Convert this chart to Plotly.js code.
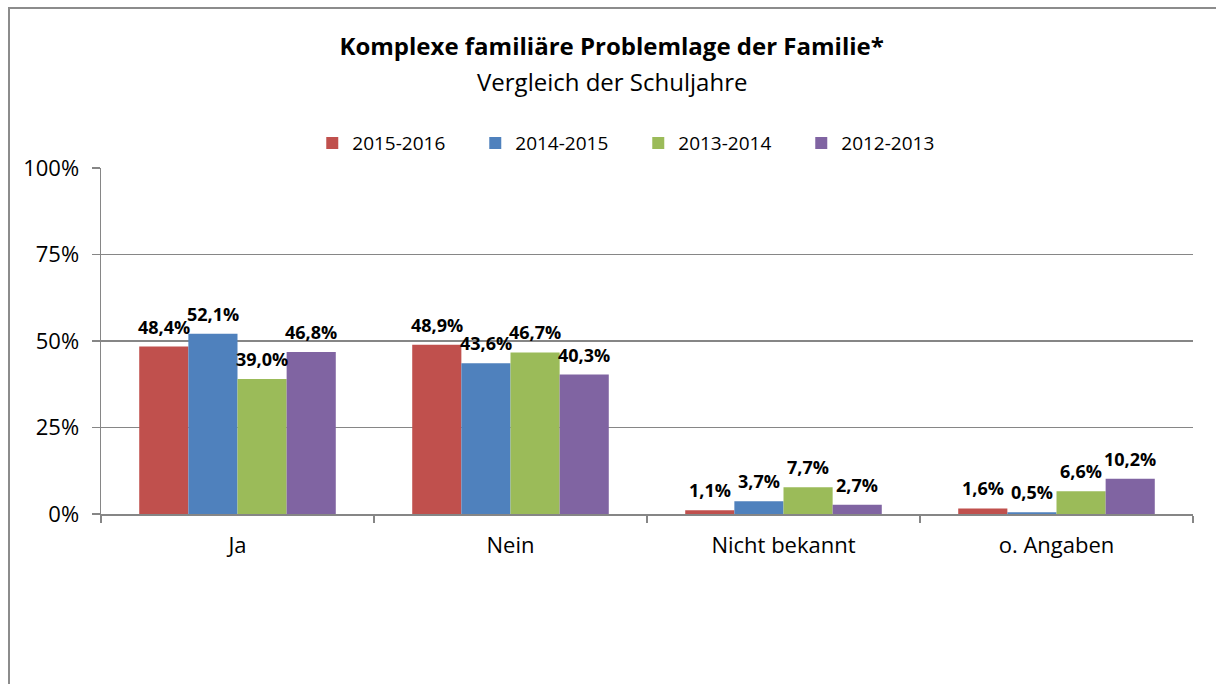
<!DOCTYPE html>
<html>
<head>
<meta charset="utf-8">
<script src="https://cdn.plot.ly/plotly-3.0.1.min.js"></script>
<style>
  html, body { margin: 0; padding: 0; background: #fff; overflow: hidden; }
  #wrap { position: relative; width: 1216px; height: 684px; }
  #chart { position: absolute; left: 0; top: 0; width: 1216px; height: 684px; }
  #frame { position: absolute; left: 8px; top: 7px; width: 1400px; height: 900px;
           border: 2px solid #8c8c8c; pointer-events: none; }
</style>
</head>
<body>
<div id="wrap">
  <div id="chart"></div>
  <div id="frame"></div>
</div>
<script>
const categories = ["Ja", "Nein", "Nicht bekannt", "o. Angaben"];
const seriesNames = ["2015-2016", "2014-2015", "2013-2014", "2012-2013"];
const s2015 = [0.484, 0.489, 0.011, 0.016];
const s2014 = [0.521, 0.436, 0.037, 0.005];
const s2013 = [0.390, 0.467, 0.077, 0.066];
const s2012 = [0.468, 0.403, 0.027, 0.102];
const colors = ["#C0504D", "#4F81BD", "#9BBB59", "#8064A2"];

const FONT = "'Open Sans', 'Noto Sans', sans-serif";
const values = [s2015, s2014, s2013, s2012];

const W = 1216, H = 684;
const margin = { l: 101, r: 23, t: 168, b: 170 };
const bargap = 0.28;
const plotW = W - margin.l - margin.r;
const plotH = H - margin.t - margin.b;
const catW = plotW / categories.length;
const barW = catW * (1 - bargap) / values.length;

const traces = values.map((v, i) => ({
  type: "bar",
  name: seriesNames[i],
  x: categories,
  y: v,
  marker: { color: colors[i], line: { width: 0 } },
  hoverinfo: "skip"
}));

const fmt = v => (v * 100).toFixed(1).replace(".", ",") + "%";
const annotations = [];
values.forEach((v, i) => {
  v.forEach((val, j) => {
    annotations.push({
      xref: "x", yref: "y",
      x: categories[j], y: val,
      xshift: (i - (values.length - 1) / 2) * barW,
      yshift: 20,
      yanchor: "middle", xanchor: "center",
      text: "<b>" + fmt(val) + "</b>",
      showarrow: false,
      font: { family: FONT, size: 18, color: "#000" }
    });
  });
});
// subtitle, centred under the title
annotations.push({
  xref: "paper", yref: "paper",
  x: (W * 0.503 - margin.l) / plotW,
  y: 1 + (margin.t - 82) / plotH,
  xanchor: "center", yanchor: "middle",
  text: "Vergleich der Schuljahre",
  showarrow: false,
  font: { family: FONT, size: 24, color: "#000" }
});

const layout = {
  width: W, height: H,
  margin: margin,
  paper_bgcolor: "#fff", plot_bgcolor: "#fff",
  separators: ",.",
  font: { family: FONT, color: "#000" },
  title: {
    text: "<b>Komplexe familiäre Problemlage der Familie*</b>",
    font: { family: FONT, size: 24, color: "#000" },
    x: 0.503, xanchor: "center", xref: "container",
    y: 1 - 47 / H, yanchor: "middle", yref: "container"
  },
  annotations: annotations,
  barmode: "group",
  bargap: bargap,
  bargroupgap: 0,
  showlegend: true,
  legend: {
    orientation: "h",
    x: 0.492, xanchor: "center",
    y: 1.072, yanchor: "middle",
    font: { family: FONT, size: 19, color: "#000" },
    entrywidth: 118, entrywidthmode: "pixels",
    itemwidth: 30,
    traceorder: "normal"
  },
  xaxis: {
    type: "category",
    showline: true, linecolor: "#868686", linewidth: 1.5,
    ticks: "outside", tickson: "boundaries", ticklen: 7, tickcolor: "#868686", tickwidth: 1.5,
    showgrid: false,
    tickfont: { family: FONT, size: 22, color: "#000" },
    ticklabelstandoff: 11,
    fixedrange: true
  },
  yaxis: {
    range: [0, 1],
    dtick: 0.25, tick0: 0,
    tickformat: ".0%",
    showline: true, linecolor: "#868686", linewidth: 1.5,
    ticks: "outside", ticklen: 8, tickcolor: "#868686", tickwidth: 1.5,
    showgrid: true, gridcolor: "#868686", gridwidth: 1.5,
    zeroline: false,
    tickfont: { family: FONT, size: 22, color: "#000" },
    ticklabelstandoff: 8,
    fixedrange: true
  }
};

Plotly.newPlot("chart", traces, layout, { displayModeBar: false, staticPlot: true });
</script>
</body>
</html>
